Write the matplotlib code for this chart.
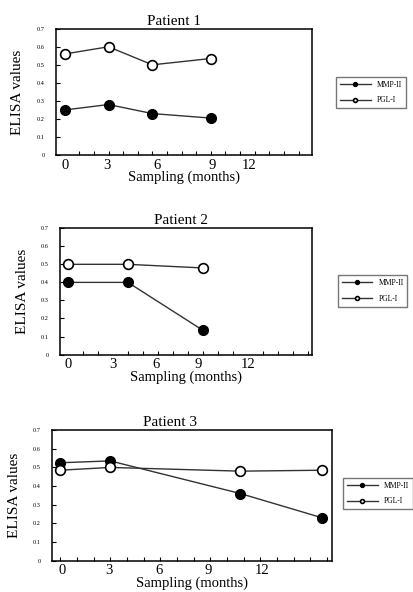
import matplotlib
matplotlib.use("Agg")
from matplotlib import pyplot as plt
from matplotlib.ticker import MultipleLocator

plt.rcParams['font.family'] = ['Liberation Serif', 'DejaVu Serif']

# values (x in months)
titles = ["Patient 1", "Patient 2", "Patient 3"]

months_p1 = [0, 3, 6, 10]
mmp_p1 = [0.25, 0.28, 0.23, 0.205]
pgl_p1 = [0.56, 0.60, 0.50, 0.535]

months_p2 = [0, 4, 9]
mmp_p2 = [0.40, 0.40, 0.135]
pgl_p2 = [0.50, 0.50, 0.48]

months_p3 = [0, 3, 10.8, 15.7]
mmp_p3 = [0.525, 0.535, 0.36, 0.23]
pgl_p3 = [0.485, 0.50, 0.48, 0.485]

# the printed month labels are not evenly spaced in the scan
tick_labels = ["0", "3", "6", "9", "12"]
ticks_p1 = [0, 2.9, 6.3, 10.1, 12.6]
ticks_p2 = [0, 3, 5.9, 8.7, 12]
ticks_p3 = [0.1, 2.9, 5.9, 8.9, 12.1]

series_names = ["MMP-II", "PGL-I"]

panels = [
    (months_p1, mmp_p1, pgl_p1, ticks_p1),
    (months_p2, mmp_p2, pgl_p2, ticks_p2),
    (months_p3, mmp_p3, pgl_p3, ticks_p3),
]

# layout in figure fractions
axes_rects = [
    [0.135, 0.738, 0.618, 0.2135],
    [0.145, 0.401, 0.609, 0.2135],
    [0.126, 0.053, 0.676, 0.2204],
]
xlims = [(-0.6, 16.9), (-0.53, 16.3), (-0.48, 16.3)]
legend_anchor = [(0.812, 0.870), (0.816, 0.535), (0.829, 0.193)]
title_x = [0.46, 0.48, 0.42]

fig = plt.figure(figsize=(4.14, 5.92), dpi=100)

for i, (months, mmp, pgl, ticks) in enumerate(panels):
    ax = fig.add_axes(axes_rects[i])
    ax.plot(months, mmp, color='#333333', lw=1.0, marker='o', ms=7,
            mfc='black', mec='black', label=series_names[0])
    ax.plot(months, pgl, color='#333333', lw=1.0, marker='o', ms=7,
            mfc='white', mec='black', mew=1.2, label=series_names[1])

    ax.set_xlim(*xlims[i])
    ax.set_ylim(0, 0.7)
    ax.set_xticks(ticks)
    ax.set_xticklabels(tick_labels)
    ax.xaxis.set_minor_locator(MultipleLocator(1))
    ax.set_yticks([0, 0.1, 0.2, 0.3, 0.4, 0.5, 0.6, 0.7])
    ax.set_yticklabels(["0", "0.1", "0.2", "0.3", "0.4", "0.5", "0.6", "0.7"])
    ax.tick_params(axis='x', which='major', length=0, pad=2.5, labelsize=10.5)
    ax.tick_params(axis='x', which='minor', direction='in', length=3, width=0.8)
    ax.tick_params(axis='y', direction='in', length=3, width=0.8, pad=8,
                   labelsize=4.5)
    for sp in ax.spines.values():
        sp.set_linewidth(1.1)

    ax.set_title(titles[i], fontsize=11, x=title_x[i], pad=3)
    ax.set_xlabel("Sampling (months)", fontsize=10.5, labelpad=-0.5)
    ax.set_ylabel("ELISA values", fontsize=11, labelpad=9)

    ax.legend(loc='upper left', bbox_to_anchor=legend_anchor[i],
              bbox_transform=fig.transFigure, fontsize=5.5, markerscale=0.4,
              frameon=True, fancybox=False, edgecolor='#555555',
              borderpad=0.5, labelspacing=1.0, handlelength=4,
              handletextpad=0.8, borderaxespad=0)

fig.savefig("out.png", dpi=100)
